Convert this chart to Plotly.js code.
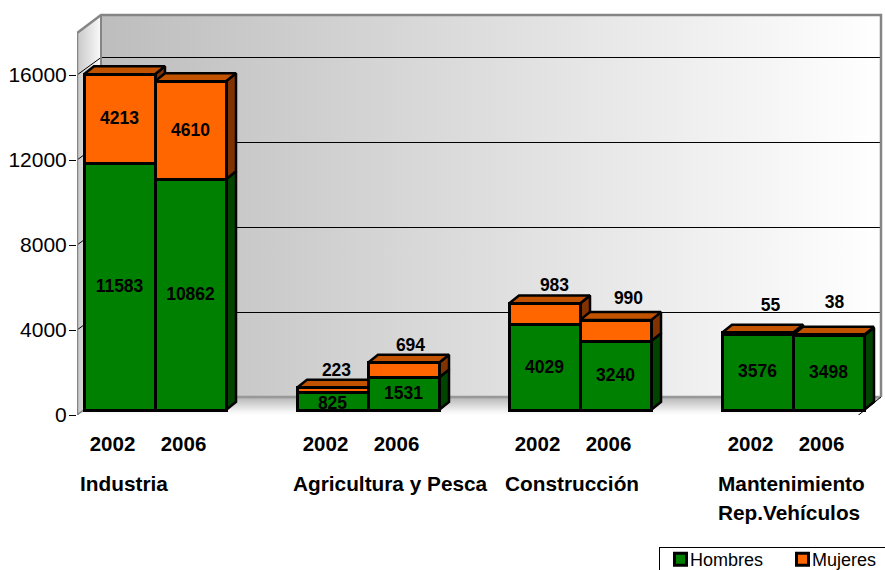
<!DOCTYPE html>
<html><head><meta charset="utf-8">
<script src="https://cdn.plot.ly/plotly-3.0.1.min.js"></script>
<style>html,body{margin:0;padding:0;background:#fff;overflow:hidden}</style>
</head><body><div id="chart" style="width:885px;height:570px"></div>
<script>
// ---- data
const sectors = ["Industria", "Agricultura y Pesca", "Construcción", "Mantenimiento<br>Rep.Vehículos"];
const years = ["2002", "2006"];
const hombres = [11583, 10862, 825, 1531, 4029, 3240, 3576, 3498];
const mujeres = [4213, 4610, 223, 694, 983, 990, 55, 38];
const yTicks = [0, 4000, 8000, 12000, 16000];

// ---- geometry of the fake 3D box (screen px)
const W = 885, H = 570, L = 77, T = 10, FLOOR = 415;
const K = 85 / 4000;                 // px per unit
const X0 = v => v - L;               // screen x -> x axis
const Y0 = p => (FLOOR - p) / K;     // screen y -> y axis
const yTop = (FLOOR - T) / K, xTop = W - L;
const LIFT = 5 / K;                  // bars stand 5px behind the front edge
const BACK = {dx: 24, dy: 18};
const DEPTH = {dx: 10, dy: 8 / K};
const groupLeft = [84, 297, 509, 722].map(X0);
const barW = 71;
const barX = [];
groupLeft.forEach(g => { barX.push(g + barW / 2, g + barW * 1.5); });
const FONT = "Liberation Sans, Arial, sans-serif";
const C = {h: "#008000", hSide: "#004400", m: "#ff6600", mSide: "#803300", mTop: "#c05200"};
const HALF = 0.5 / K;                // half a pixel, keeps 1px lines crisp

const traces = [];
const poly = (xs, ys, o) => traces.push(Object.assign({type: "scatter", mode: "lines", x: xs, y: ys,
  showlegend: false, hoverinfo: "skip", cliponaxis: false}, o));

// walls and floor
const xB0 = BACK.dx, xB1 = X0(881), yBack = Y0(397), yWallTop = Y0(15);
poly([0, xB0, xB0, 0, 0], [Y0(33), yWallTop, yBack, 0, Y0(33)], {fill: "toself", line: {width: 0},
  fillgradient: {type: "horizontal", colorscale: [[0, "#c8c8c8"], [1, "#fafafa"]]}});
poly([xB0, xB1, xB1, xB0, xB0], [yWallTop, yWallTop, yBack, yBack, yWallTop], {fill: "toself", line: {width: 0},
  fillgradient: {type: "horizontal", colorscale: [[0, "#bdbdbd"], [0.5, "#dedede"], [1, "#ffffff"]]}});
poly([0, xB0, xB1, X0(858), 0], [0, yBack, yBack, 0, 0], {fill: "toself", line: {width: 0},
  fillgradient: {type: "vertical", colorscale: [[0, "#ffffff"], [0.2, "#f4f4f4"], [0.85, "#c0c0c0"], [1, "#b0b0b0"]]}});
// gridlines on back and left walls
yTicks.slice(1).forEach(t => {
  const b = t + BACK.dy / K - HALF;
  poly([0, xB0, xB1], [t, b, b], {line: {color: "#000", width: 1}});
});
// wall edges
poly([0, 0, xB0, xB1, xB1], [0, Y0(33), yWallTop, yWallTop, yBack], {line: {color: "#858585", width: 2.5}});
poly([xB0, xB0], [yWallTop, yBack], {line: {color: "#858585", width: 2}});
poly([xB0, xB1], [yBack, yBack], {line: {color: "#989898", width: 2.5}});
poly([0, xB0], [0, yBack], {line: {color: "#858585", width: 1.5}});
poly([0, X0(858), xB1], [-HALF, -HALF, yBack], {line: {color: "#000", width: 1}});

// side and top faces of each bar, from its values
barX.forEach((cx, i) => {
  const xr = cx + barW / 2, xl = cx - barW / 2;
  const y1 = hombres[i] + LIFT, y2 = y1 + mujeres[i];
  const outline = {color: "#000", width: 2.5};
  poly([xr, xr + DEPTH.dx, xr + DEPTH.dx, xr, xr], [LIFT, LIFT + DEPTH.dy, y1 + DEPTH.dy, y1, LIFT],
    {fill: "toself", fillcolor: C.hSide, line: outline});
  poly([xr, xr + DEPTH.dx, xr + DEPTH.dx, xr, xr], [y1, y1 + DEPTH.dy, y2 + DEPTH.dy, y2, y1],
    {fill: "toself", fillcolor: C.mSide, line: outline});
  poly([xl, xl + DEPTH.dx, xr + DEPTH.dx, xr, xl], [y2, y2 + DEPTH.dy, y2 + DEPTH.dy, y2, y2],
    {fill: "toself", fillcolor: C.mTop, line: outline});
});

// front faces: real stacked bars
const barBase = {type: "bar", x: barX, width: barW, xaxis: "x2", yaxis: "y2", hoverinfo: "y+name"};
traces.push(Object.assign({}, barBase, {name: "Hombres", y: hombres, marker: {color: C.h, line: {color: "#000", width: 3}}}));
traces.push(Object.assign({}, barBase, {name: "Mujeres", y: mujeres, marker: {color: C.m, line: {color: "#000", width: 3}}}));

// value labels
const lblFont = {family: FONT, size: 17.5, color: "#000", weight: 700};
const PX = 1 / K;
const hombresNudge = [1, 1, 3, 1, 1, 1, 1, 1];   // px downwards
traces.push({type: "scatter", mode: "text", x: barX, y: hombres.map((v, i) => v / 2 - hombresNudge[i] * PX), text: hombres.map(String),
  xaxis: "x2", yaxis: "y2", textfont: lblFont, textposition: "middle center", showlegend: false, hoverinfo: "skip", cliponaxis: false});
// Mujeres labels: inside when the segment is tall, otherwise nudged above the bar (px offsets)
const nudgeX = [0, 0, 4, 7, 10, 13, 13, 6];
const nudgeY = [null, null, 16, 16, 16.5, 20, 26, 31];
traces.push({type: "scatter", mode: "text",
  x: barX.map((c, i) => c + nudgeX[i]),
  y: mujeres.map((m, i) => nudgeY[i] === null ? hombres[i] + m / 2 - PX : hombres[i] + m + nudgeY[i] * PX),
  text: mujeres.map(String), xaxis: "x2", yaxis: "y2", textfont: lblFont, textposition: "middle center",
  showlegend: false, hoverinfo: "skip", cliponaxis: false});

// axis ticks sit at the front edge of the box: 7px left of the bars
const tickX = barX.map(c => c - 7);
const tickText = barX.map((c, i) => years[i % 2]);
const tickFont = {family: FONT, size: 20.5, color: "#000", weight: 700};
const groupFont = {family: FONT, size: 20.8, color: "#000", weight: 700};
const annotations = [];
sectors.forEach((s, i) => s.split("<br>").forEach((line, j) => annotations.push({
  xref: "x", yref: "paper", x: groupLeft[i] - 5, y: (FLOOR - (484 + 28 * j)) / (FLOOR - T), yanchor: "middle", xanchor: "left",
  text: line, align: "left", showarrow: false, font: groupFont, borderpad: 0
})));

const layout = {
  width: W, height: H, margin: {l: L, r: 0, t: T, b: H - FLOOR, pad: 0},
  paper_bgcolor: "#fff", plot_bgcolor: "rgba(0,0,0,0)",
  font: {family: FONT, color: "#000"},
  barmode: "stack", bargap: 0,
  xaxis: {range: [0, xTop], tickmode: "array", tickvals: tickX, ticktext: tickText, ticks: "", showgrid: false,
    zeroline: false, showline: false, ticklabelstandoff: 14, tickfont: tickFont, tickangle: 0},
  yaxis: {range: [0, yTop], tickmode: "array", tickvals: yTicks, ticktext: yTicks.map(String), ticks: "outside",
    ticklen: 7, tickcolor: "#000", tickwidth: 1, showgrid: false, zeroline: false, showline: false,
    ticklabelstandoff: -2, tickfont: {family: FONT, size: 21, color: "#000"}},
  xaxis2: {overlaying: "x", anchor: "y2", range: [0, xTop], visible: false},
  yaxis2: {overlaying: "y", anchor: "x2", range: [-LIFT, yTop - LIFT], visible: false},
  legend: {orientation: "h", xref: "container", yref: "container", x: 659 / W, y: 1 - 547 / H, xanchor: "left", yanchor: "top",
    bgcolor: "#fff", bordercolor: "#000", borderwidth: 1, font: {family: FONT, size: 18, color: "#000"},
    itemwidth: 30, traceorder: "normal", entrywidth: 77, entrywidthmode: "pixels"},
  annotations: annotations
};
Plotly.newPlot("chart", traces, layout, {displayModeBar: false, staticPlot: true}).then(() => {
  // tighten the legend: swatch right next to its label, row pulled up, as in the reference
  document.querySelectorAll(".legend .traces").forEach(g => {
    const t = g.querySelector(".legendtext");
    if (t) {
      t.setAttribute("x", +t.getAttribute("x") - 10);
      t.removeAttribute("clip-path");
    }
    const s = g.querySelector(".legendsymbols");
    if (s) s.setAttribute("transform", "translate(0.5,0)");
    const m = /translate\(([-\d.]+),\s*([-\d.]+)\)/.exec(g.getAttribute("transform") || "");
    if (m) g.setAttribute("transform", "translate(" + m[1] + "," + (+m[2] - 7) + ")");
  });
});
</script></body></html>
